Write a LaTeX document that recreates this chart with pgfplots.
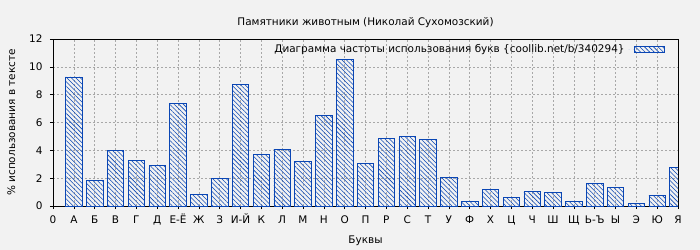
\documentclass[border=0pt]{standalone}
\usepackage{fontspec}
\setmainfont{DejaVu Sans}
\usepackage{pgfplots}
\pgfplotsset{compat=1.18}
\usetikzlibrary{patterns.meta}
\definecolor{bg}{HTML}{F2F2F2}
\definecolor{barblue}{HTML}{0A46B4}
\definecolor{gridgray}{HTML}{A8A8A8}
\begin{document}
\begin{tikzpicture}
\fill[bg] (-53bp,-44bp) rectangle (647bp,206bp);
\begin{axis}[
  scale only axis, width=625bp, height=167bp,
  xmin=0, xmax=30, ymin=0, ymax=12,
  xtick={0,...,30},
  xticklabels={0,А,Б,В,Г,Д,Е-Ё,Ж,З,И-Й,К,Л,М,Н,О,П,Р,С,Т,У,Ф,Х,Ц,Ч,Ш,Щ,Ь-Ъ,Ы,Э,Ю,Я},
  ytick={0,2,...,12},
  /pgf/number format/assume math mode=true,
  xtick pos=bottom, ytick pos=left,
  tick align=outside, major tick length=3bp,
  tick style={black, line width=0.6pt},
  axis line style={black, line width=0.7pt},
  grid=major,
  major grid style={gridgray, line width=0.55pt, dash pattern=on 2bp off 2bp},
  ticklabel style={font=\fontsize{10.5}{12}\selectfont},
  xticklabel style={anchor=north, text height=8bp, text depth=2bp, yshift=-3bp},
  yticklabel style={xshift=-4bp},
  title={Памятники животным (Николай Сухомозский)},
  title style={font=\fontsize{10.5}{12}\selectfont, yshift=2bp},
  xlabel={Буквы},
  ylabel={\% использования в тексте},
  label style={font=\fontsize{10.5}{12}\selectfont},
  xlabel style={yshift=-4bp},
  ylabel style={yshift=7bp},
  legend plot pos=right,
  legend style={at={(0.981,0.985)}, anchor=north east, draw=none, fill=none,
    font=\fontsize{10.5}{12}\selectfont, inner sep=1bp},
]
\addplot[ybar, bar width=16.5bp, draw=barblue, line width=0.8pt,
  pattern={Lines[angle=-45,distance=3.2pt,line width=0.55pt]}, pattern color=barblue,
  legend image code/.code={\path[draw=none] (0bp,0bp) -- (8bp,0bp);
    \draw[draw=barblue, line width=0.8pt,
    pattern={Lines[angle=-45,distance=3.2pt,line width=0.55pt]}, pattern color=barblue]
    (8bp,-3bp) rectangle (38bp,3bp);}]
coordinates {
(1,9.27) (2,1.85) (3,3.96) (4,3.29) (5,2.93) (6,7.39) (7,0.84) (8,1.99)
(9,8.76) (10,3.72) (11,4.08) (12,3.22) (13,6.53) (14,10.56) (15,3.05)
(16,4.87) (17,5.02) (18,4.80) (19,2.07) (20,0.34) (21,1.20) (22,0.63)
(23,1.06) (24,0.98) (25,0.34) (26,1.63) (27,1.35) (28,0.19) (29,0.77) (30,2.79)
};
\addlegendentry{Диаграмма частоты использования букв \{coollib.net/b/340294\}}
\end{axis}
\pgfresetboundingbox
\useasboundingbox (-53bp,-44bp) rectangle (647bp,206bp);
\end{tikzpicture}
\end{document}
